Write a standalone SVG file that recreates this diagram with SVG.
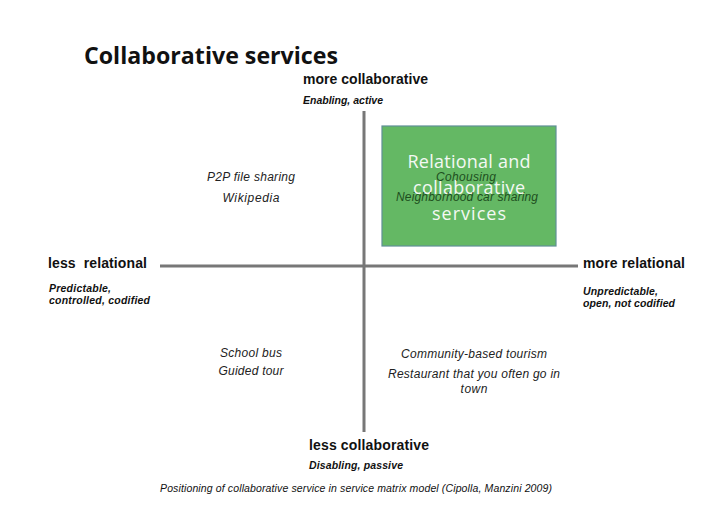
<svg xmlns="http://www.w3.org/2000/svg" width="728" height="514" viewBox="0 0 728 514">
<style>
.t{font-family:"Liberation Sans",Arial,sans-serif;fill:#111}
.h{font-weight:bold;font-size:14px}
.s{font-weight:bold;font-style:italic;font-size:10.5px}
.i{font-style:italic;font-size:12px;fill:#222}
.g{font-family:"Open Sans","Liberation Sans",sans-serif;font-size:18px;fill:#f4f8f4;text-anchor:middle}
.ax{stroke:#777;stroke-width:3;fill:none}
</style>
<rect width="728" height="514" fill="#fff"/>
<text x="84" y="64" font-family="'Open Sans','Liberation Sans',sans-serif" font-weight="bold" font-size="23" fill="#111" textLength="254" lengthAdjust="spacingAndGlyphs">Collaborative services</text>
<g id="connectors">
<line class="ax" x1="160" y1="266" x2="578" y2="266"/>
<line class="ax" x1="364" y1="111" x2="364" y2="432"/>
</g>
<g id="top-label">
<text class="t h" x="303" y="84" textLength="125">more collaborative</text>
<text class="t s" x="303" y="104" textLength="80">Enabling, active</text>
</g>
<g id="box">
<rect x="382" y="126" width="174" height="120" fill="#64b864" stroke="#5f8f96" stroke-width="1.2"/>
<text class="g" x="469" y="168" textLength="123">Relational and</text>
<text class="g" x="469" y="194" textLength="112">collaborative</text>
<text class="g" x="469" y="220" textLength="74">services</text>
<text class="t i" x="466" y="181" text-anchor="middle" style="fill:#1e4f1e" textLength="60">Cohousing</text>
<text class="t i" x="467" y="201" text-anchor="middle" style="fill:#1e4f1e" textLength="142">Neighborhood car sharing</text>
</g>
<g id="top-left">
<text class="t i" x="251" y="181" text-anchor="middle" textLength="88">P2P file sharing</text>
<text class="t i" x="251" y="202" text-anchor="middle" textLength="57">Wikipedia</text>
</g>
<g id="left-label">
<text class="t h" x="48" y="268" xml:space="preserve" textLength="99">less  relational</text>
<text class="t s" x="49" y="292" textLength="62">Predictable,</text>
<text class="t s" x="49" y="304" textLength="101">controlled, codified</text>
</g>
<g id="right-label">
<text class="t h" x="583" y="268" textLength="102">more relational</text>
<text class="t s" x="583" y="295" textLength="75">Unpredictable,</text>
<text class="t s" x="583" y="307" textLength="92">open, not codified</text>
</g>
<g id="bottom-left">
<text class="t i" x="251" y="357" text-anchor="middle" textLength="62">School bus</text>
<text class="t i" x="251" y="375" text-anchor="middle" textLength="65">Guided tour</text>
</g>
<g id="bottom-right">
<text class="t i" x="474" y="358" text-anchor="middle" textLength="146">Community-based tourism</text>
<text class="t i" x="474" y="378" text-anchor="middle" textLength="172">Restaurant that you often go in</text>
<text class="t i" x="474" y="393" text-anchor="middle" textLength="27">town</text>
</g>
<g id="bottom-label">
<text class="t h" x="309" y="450" textLength="120">less collaborative</text>
<text class="t s" x="309" y="469" textLength="94">Disabling, passive</text>
</g>
<text class="t" x="160" y="492" font-style="italic" font-size="10.5" textLength="392">Positioning of collaborative service in service matrix model (Cipolla, Manzini 2009)</text>
</svg>
